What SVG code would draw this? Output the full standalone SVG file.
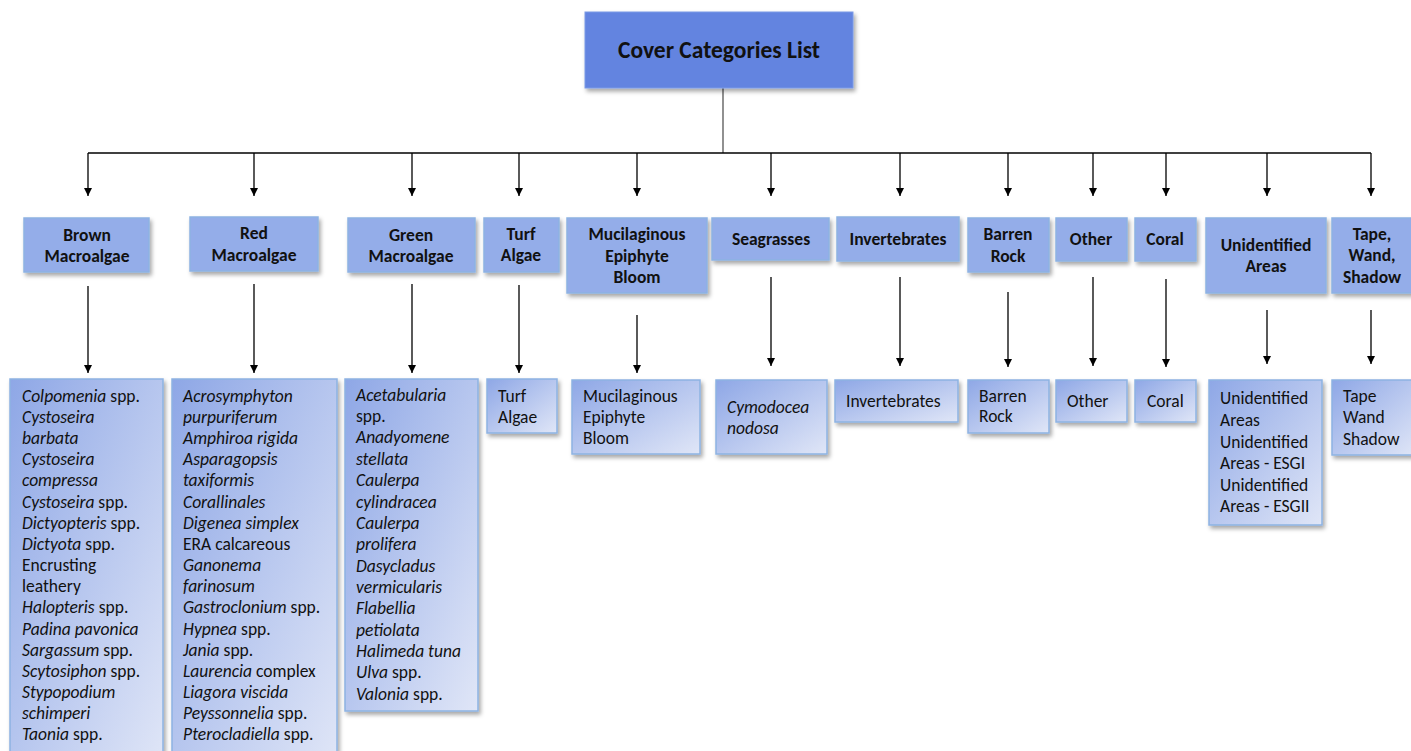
<svg xmlns="http://www.w3.org/2000/svg" width="1411" height="751" viewBox="0 0 1411 751">
<defs>
<style>
.t{font-family:Carlito,Lato,"Liberation Sans",sans-serif;fill:#111;}
.cat{font-size:17.5px;font-weight:bold;text-anchor:middle;}
.leaf{font-size:17.5px;}
.title{font-size:23.5px;font-weight:bold;text-anchor:middle;}
.cbox{fill:#94ADE9;stroke:#8DB3E2;stroke-width:1.5;filter:url(#sh);}
.lbox{fill:url(#lg);stroke:#8DB3E2;stroke-width:1.5;filter:url(#sh);}
.ln{stroke:#000;stroke-width:1.3;fill:none;}
.ar{stroke:#000;stroke-width:1.3;fill:none;marker-end:url(#ah);}
</style>
<linearGradient id="lg" x1="0" y1="0" x2="1" y2="1">
<stop offset="0" stop-color="#8EA7E6"/>
<stop offset="1" stop-color="#E0E6F7"/>
</linearGradient>
<filter id="sh" x="-10%" y="-10%" width="130%" height="130%">
<feDropShadow dx="2" dy="3" stdDeviation="2" flood-color="#000" flood-opacity="0.35"/>
</filter>
<marker id="ah" viewBox="0 0 10 10" refX="10" refY="5" markerWidth="9" markerHeight="8" markerUnits="userSpaceOnUse" orient="auto">
<path d="M0,0 L10,5 L0,10 z" fill="#000"/>
</marker>
</defs>
<rect width="1411" height="751" fill="#fff"/>

<g id="connectors">
<line class="ln" x1="723" y1="88" x2="723" y2="153" style="stroke:#555"/>
<line class="ln" x1="88" y1="153" x2="1371" y2="153"/>
<line class="ar" x1="88" y1="153" x2="88" y2="196"/>
<line class="ar" x1="254" y1="153" x2="254" y2="196"/>
<line class="ar" x1="412" y1="153" x2="412" y2="196"/>
<line class="ar" x1="519" y1="153" x2="519" y2="196"/>
<line class="ar" x1="637" y1="153" x2="637" y2="196"/>
<line class="ar" x1="771" y1="153" x2="771" y2="196"/>
<line class="ar" x1="900" y1="153" x2="900" y2="196"/>
<line class="ar" x1="1008" y1="153" x2="1008" y2="196"/>
<line class="ar" x1="1093" y1="153" x2="1093" y2="196"/>
<line class="ar" x1="1166" y1="153" x2="1166" y2="196"/>
<line class="ar" x1="1267" y1="153" x2="1267" y2="196"/>
<line class="ar" x1="1371" y1="153" x2="1371" y2="196"/>
<line class="ar" x1="88" y1="286" x2="88" y2="373"/>
<line class="ar" x1="254" y1="284" x2="254" y2="373"/>
<line class="ar" x1="412" y1="284" x2="412" y2="373"/>
<line class="ar" x1="519" y1="285" x2="519" y2="373"/>
<line class="ar" x1="637" y1="315" x2="637" y2="373"/>
<line class="ar" x1="771" y1="277" x2="771" y2="366"/>
<line class="ar" x1="900" y1="277" x2="900" y2="366"/>
<line class="ar" x1="1008" y1="292" x2="1008" y2="367"/>
<line class="ar" x1="1093" y1="277" x2="1093" y2="366"/>
<line class="ar" x1="1166" y1="279" x2="1166" y2="367"/>
<line class="ar" x1="1267" y1="310" x2="1267" y2="364"/>
<line class="ar" x1="1371" y1="310" x2="1371" y2="364"/>
</g>

<g id="root">
<rect x="585" y="12" width="268" height="76" fill="#6384E0" stroke="#7A9AE6" stroke-width="1" filter="url(#sh)"/>
<text class="t title" x="719" y="58">Cover Categories List</text>
</g>

<g id="cat-brown"><rect class="cbox" x="24" y="218" width="125" height="54"/>
<text class="t cat" x="87" y="241">Brown</text><text class="t cat" x="87" y="262">Macroalgae</text></g>
<g id="cat-red"><rect class="cbox" x="190" y="217" width="128" height="54"/>
<text class="t cat" x="254" y="239">Red</text><text class="t cat" x="254" y="261">Macroalgae</text></g>
<g id="cat-green"><rect class="cbox" x="348" y="218" width="127" height="54"/>
<text class="t cat" x="411" y="241">Green</text><text class="t cat" x="411" y="262">Macroalgae</text></g>
<g id="cat-turf"><rect class="cbox" x="484" y="218" width="75" height="54"/>
<text class="t cat" x="521" y="240">Turf</text><text class="t cat" x="521" y="261">Algae</text></g>
<g id="cat-muc"><rect class="cbox" x="567" y="218" width="140" height="75"/>
<text class="t cat" x="637" y="240">Mucilaginous</text><text class="t cat" x="637" y="262">Epiphyte</text><text class="t cat" x="637" y="283">Bloom</text></g>
<g id="cat-sea"><rect class="cbox" x="712" y="218" width="117" height="42"/>
<text class="t cat" x="771" y="245">Seagrasses</text></g>
<g id="cat-inv"><rect class="cbox" x="837" y="217" width="122" height="44"/>
<text class="t cat" x="898" y="245">Invertebrates</text></g>
<g id="cat-barren"><rect class="cbox" x="968" y="218" width="81" height="54"/>
<text class="t cat" x="1008" y="240">Barren</text><text class="t cat" x="1008" y="262">Rock</text></g>
<g id="cat-other"><rect class="cbox" x="1056" y="218" width="71" height="43"/>
<text class="t cat" x="1091" y="245">Other</text></g>
<g id="cat-coral"><rect class="cbox" x="1135" y="218" width="61" height="43"/>
<text class="t cat" x="1165" y="245">Coral</text></g>
<g id="cat-unid"><rect class="cbox" x="1206" y="218" width="120" height="75"/>
<text class="t cat" x="1266" y="251">Unidentified</text><text class="t cat" x="1266" y="272">Areas</text></g>
<g id="cat-tape"><rect class="cbox" x="1332" y="218" width="84" height="75"/>
<text class="t cat" x="1372" y="240">Tape,</text><text class="t cat" x="1372" y="261">Wand,</text><text class="t cat" x="1372" y="283">Shadow</text></g>

<g id="list-brown"><rect class="lbox" x="10" y="379" width="153" height="390"/>
<text class="t leaf" x="22" y="402"><tspan font-style="italic">Colpomenia</tspan> spp.</text>
<text class="t leaf" x="22" y="423" font-style="italic">Cystoseira</text>
<text class="t leaf" x="22" y="444" font-style="italic">barbata</text>
<text class="t leaf" x="22" y="465" font-style="italic">Cystoseira</text>
<text class="t leaf" x="22" y="486" font-style="italic">compressa</text>
<text class="t leaf" x="22" y="508"><tspan font-style="italic">Cystoseira</tspan> spp.</text>
<text class="t leaf" x="22" y="529"><tspan font-style="italic">Dictyopteris</tspan> spp.</text>
<text class="t leaf" x="22" y="550"><tspan font-style="italic">Dictyota</tspan> spp.</text>
<text class="t leaf" x="22" y="571">Encrusting</text>
<text class="t leaf" x="22" y="592">leathery</text>
<text class="t leaf" x="22" y="613"><tspan font-style="italic">Halopteris</tspan> spp.</text>
<text class="t leaf" x="22" y="635" font-style="italic">Padina pavonica</text>
<text class="t leaf" x="22" y="656"><tspan font-style="italic">Sargassum</tspan> spp.</text>
<text class="t leaf" x="22" y="677"><tspan font-style="italic">Scytosiphon</tspan> spp.</text>
<text class="t leaf" x="22" y="698" font-style="italic">Stypopodium</text>
<text class="t leaf" x="22" y="719" font-style="italic">schimperi</text>
<text class="t leaf" x="22" y="740"><tspan font-style="italic">Taonia</tspan> spp.</text>
</g>

<g id="list-red"><rect class="lbox" x="172" y="379" width="165" height="390"/>
<text class="t leaf" x="183" y="402" font-style="italic">Acrosymphyton</text>
<text class="t leaf" x="183" y="423" font-style="italic">purpuriferum</text>
<text class="t leaf" x="183" y="444" font-style="italic">Amphiroa rigida</text>
<text class="t leaf" x="183" y="465" font-style="italic">Asparagopsis</text>
<text class="t leaf" x="183" y="486" font-style="italic">taxiformis</text>
<text class="t leaf" x="183" y="508" font-style="italic">Corallinales</text>
<text class="t leaf" x="183" y="529" font-style="italic">Digenea simplex</text>
<text class="t leaf" x="183" y="550">ERA calcareous</text>
<text class="t leaf" x="183" y="571" font-style="italic">Ganonema</text>
<text class="t leaf" x="183" y="592" font-style="italic">farinosum</text>
<text class="t leaf" x="183" y="613"><tspan font-style="italic">Gastroclonium</tspan> spp.</text>
<text class="t leaf" x="183" y="635"><tspan font-style="italic">Hypnea</tspan> spp.</text>
<text class="t leaf" x="183" y="656"><tspan font-style="italic">Jania</tspan> spp.</text>
<text class="t leaf" x="183" y="677"><tspan font-style="italic">Laurencia</tspan> complex</text>
<text class="t leaf" x="183" y="698" font-style="italic">Liagora viscida</text>
<text class="t leaf" x="183" y="719"><tspan font-style="italic">Peyssonnelia</tspan> spp.</text>
<text class="t leaf" x="183" y="740"><tspan font-style="italic">Pterocladiella</tspan> spp.</text>
</g>

<g id="list-green"><rect class="lbox" x="345" y="379" width="133" height="332"/>
<text class="t leaf" x="356" y="401" font-style="italic">Acetabularia</text>
<text class="t leaf" x="356" y="422">spp.</text>
<text class="t leaf" x="356" y="443" font-style="italic">Anadyomene</text>
<text class="t leaf" x="356" y="465" font-style="italic">stellata</text>
<text class="t leaf" x="356" y="486" font-style="italic">Caulerpa</text>
<text class="t leaf" x="356" y="508" font-style="italic">cylindracea</text>
<text class="t leaf" x="356" y="529" font-style="italic">Caulerpa</text>
<text class="t leaf" x="356" y="550" font-style="italic">prolifera</text>
<text class="t leaf" x="356" y="572" font-style="italic">Dasycladus</text>
<text class="t leaf" x="356" y="593" font-style="italic">vermicularis</text>
<text class="t leaf" x="356" y="614" font-style="italic">Flabellia</text>
<text class="t leaf" x="356" y="636" font-style="italic">petiolata</text>
<text class="t leaf" x="356" y="657" font-style="italic">Halimeda tuna</text>
<text class="t leaf" x="356" y="678"><tspan font-style="italic">Ulva</tspan> spp.</text>
<text class="t leaf" x="356" y="700"><tspan font-style="italic">Valonia</tspan> spp.</text>
</g>

<g id="list-turf"><rect class="lbox" x="487" y="379" width="70" height="54"/>
<text class="t leaf" x="498" y="402">Turf</text><text class="t leaf" x="498" y="423">Algae</text></g>
<g id="list-muc"><rect class="lbox" x="572" y="380" width="128" height="74"/>
<text class="t leaf" x="583" y="402">Mucilaginous</text><text class="t leaf" x="583" y="423">Epiphyte</text><text class="t leaf" x="583" y="444">Bloom</text></g>
<g id="list-sea"><rect class="lbox" x="716" y="380" width="111" height="74"/>
<text class="t leaf" x="727" y="413" font-style="italic">Cymodocea</text><text class="t leaf" x="727" y="434" font-style="italic">nodosa</text></g>
<g id="list-inv"><rect class="lbox" x="835" y="380" width="123" height="42"/>
<text class="t leaf" x="846" y="407">Invertebrates</text></g>
<g id="list-barren"><rect class="lbox" x="968" y="380" width="81" height="53"/>
<text class="t leaf" x="979" y="402">Barren</text><text class="t leaf" x="979" y="422">Rock</text></g>
<g id="list-other"><rect class="lbox" x="1056" y="380" width="71" height="42"/>
<text class="t leaf" x="1067" y="407">Other</text></g>
<g id="list-coral"><rect class="lbox" x="1135" y="380" width="61" height="42"/>
<text class="t leaf" x="1147" y="407">Coral</text></g>
<g id="list-unid"><rect class="lbox" x="1209" y="380" width="113" height="145"/>
<text class="t leaf" x="1220" y="404">Unidentified</text><text class="t leaf" x="1220" y="426">Areas</text>
<text class="t leaf" x="1220" y="448">Unidentified</text><text class="t leaf" x="1220" y="469">Areas - ESGI</text>
<text class="t leaf" x="1220" y="491">Unidentified</text><text class="t leaf" x="1220" y="512">Areas - ESGII</text></g>
<g id="list-tape"><rect class="lbox" x="1332" y="380" width="84" height="75"/>
<text class="t leaf" x="1343" y="402">Tape</text><text class="t leaf" x="1343" y="423">Wand</text><text class="t leaf" x="1343" y="445">Shadow</text></g>
</svg>
